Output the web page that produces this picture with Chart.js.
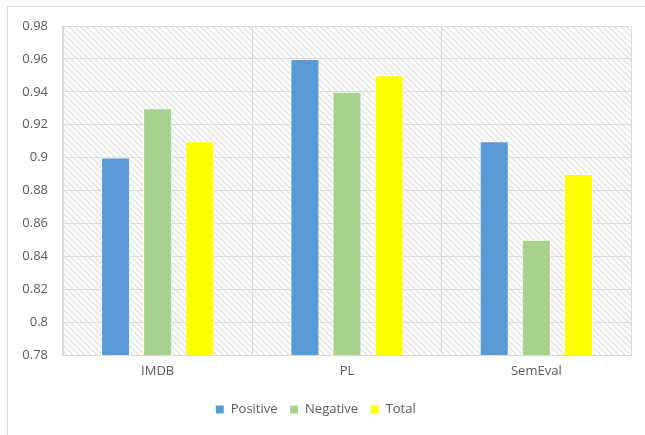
<!DOCTYPE html>
<html>
<head>
<meta charset="utf-8">
<script src="https://cdn.jsdelivr.net/npm/chart.js@4/dist/chart.umd.min.js"></script>
<style>
  html, body { margin: 0; padding: 0; background: #fff; }
  #wrap { position: relative; width: 645px; height: 435px; overflow: hidden; }
  #frame { position: absolute; left: 7px; top: 6px; width: 660px; height: 460px;
           border: 1px solid #d9d9d9; box-sizing: border-box; }
  canvas { position: absolute; left: 0; top: 0; }
</style>
</head>
<body>
<div id="wrap">
  <div id="frame"></div>
  <canvas id="c" width="645" height="435"></canvas>
</div>
<script>
const categories = ['IMDB', 'PL', 'SemEval'];
const positive = [0.90, 0.96, 0.91];
const negative = [0.93, 0.94, 0.85];
const total = [0.91, 0.95, 0.89];
const yMin = 0.78, yMax = 0.98, yStep = 0.02;

// diagonal hatch used behind the plot area
function makeHatch() {
  const s = 6;
  const p = document.createElement('canvas');
  p.width = s; p.height = s;
  const g = p.getContext('2d');
  g.fillStyle = '#ffffff';
  g.fillRect(0, 0, s, s);
  g.strokeStyle = '#e2e2e2';
  g.lineWidth = 1.4;
  g.beginPath();
  g.moveTo(-1, -1); g.lineTo(s + 1, s + 1);
  g.moveTo(-1, s - 1); g.lineTo(1, s + 1);
  g.moveTo(s - 1, -1); g.lineTo(s + 1, 1);
  g.stroke();
  return g.createPattern(p, 'repeat');
}

const hatchBackground = {
  id: 'hatchBackground',
  beforeDraw(chart) {
    const { ctx, chartArea: a } = chart;
    ctx.save();
    ctx.fillStyle = makeHatch();
    ctx.fillRect(a.left, a.top, a.right - a.left, a.bottom - a.top);
    ctx.restore();
  }
};

const font = { family: 'Open Sans', size: 13 };

new Chart(document.getElementById('c'), {
  type: 'bar',
  data: {
    labels: categories,
    datasets: [
      { label: 'Positive', data: positive, backgroundColor: '#5b9bd5' },
      { label: 'Negative', data: negative, backgroundColor: '#a9d18e' },
      { label: 'Total', data: total, backgroundColor: '#ffff00' }
    ].map(d => Object.assign(d, {
      borderColor: '#ffffff', borderWidth: 1, borderSkipped: false,
      categoryPercentage: 0.667, barPercentage: 0.69
    }))
  },
  options: {
    responsive: false,
    animation: false,
    layout: { padding: { left: 0, right: 14, top: 26, bottom: 9 } },
    scales: {
      x: {
        afterFit(scale) { scale.height = 36; },
        grid: { color: '#d9d9d9', drawTicks: false, offset: true },
        border: { color: '#d9d9d9' },
        ticks: { color: '#595959', font, padding: 8 }
      },
      y: {
        min: yMin, max: yMax,
        afterFit(scale) { scale.width = 63; },
        grid: { color: '#d9d9d9', drawTicks: false },
        border: { display: true, color: '#d9d9d9' },
        ticks: {
          stepSize: yStep, color: '#595959', font, padding: 15,
          callback: v => String(Math.round(v * 100) / 100)
        }
      }
    },
    plugins: {
      legend: {
        position: 'bottom',
        labels: { boxWidth: 9, boxHeight: 9, color: '#595959', font, padding: 12 }
      },
      tooltip: { enabled: false }
    }
  },
  plugins: [hatchBackground]
});
</script>
</body>
</html>
